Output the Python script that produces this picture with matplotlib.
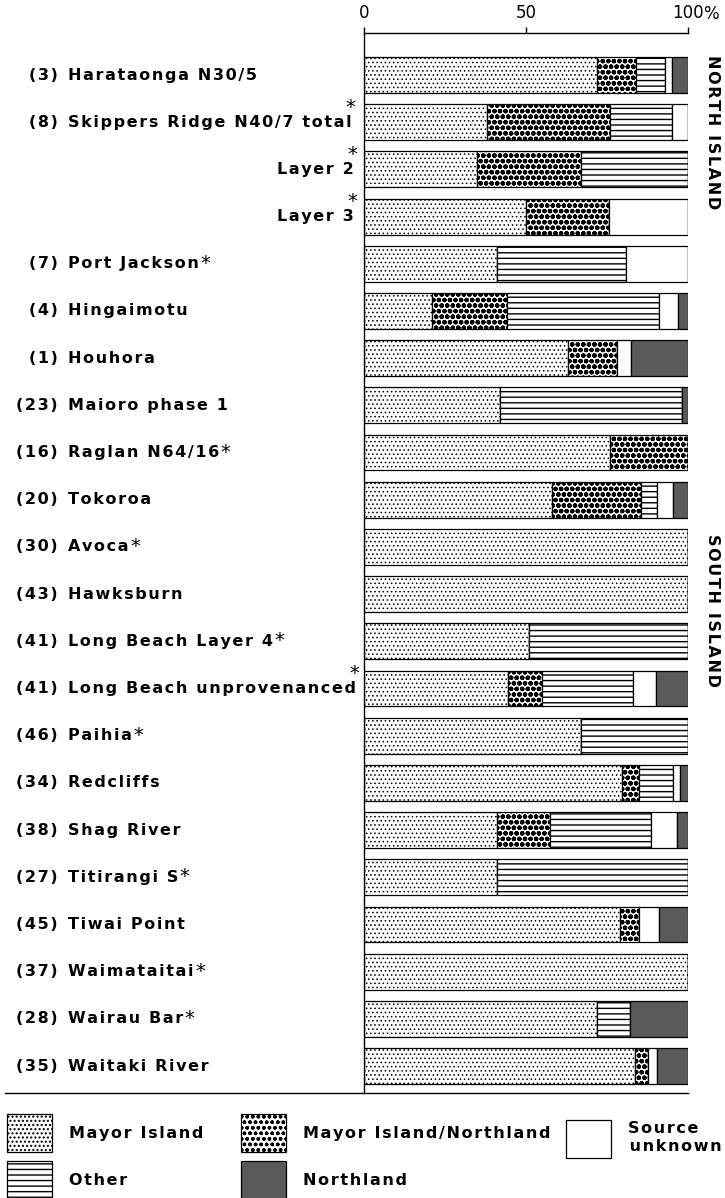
import numpy as np
import matplotlib
matplotlib.use('Agg')
import matplotlib.pyplot as plt
from matplotlib import transforms
from matplotlib.patches import Patch
from matplotlib.lines import Line2D

# site number, site name, and where its asterisk goes
numbers = ['(3)', '(8)', '', '', '(7)', '(4)', '(1)', '(23)', '(16)', '(20)', '(30)',
           '(43)', '(41)', '(41)', '(46)', '(34)', '(38)', '(27)', '(45)', '(37)',
           '(28)', '(35)']
sites = ['Harataonga N30/5', 'Skippers Ridge N40/7 total', 'Layer 2', 'Layer 3',
         'Port Jackson', 'Hingaimotu', 'Houhora', 'Maioro phase 1', 'Raglan N64/16',
         'Tokoroa', 'Avoca', 'Hawksburn', 'Long Beach Layer 4',
         'Long Beach unprovenanced', 'Paihia', 'Redcliffs', 'Shag River',
         'Titirangi S', 'Tiwai Point', 'Waimataitai', 'Wairau Bar', 'Waitaki River']
stars = ['', 'above', 'above', 'above', 'super', '', '', '', 'super', '', 'super', '',
         'super', 'above', 'super', '', '', 'super', '', 'super', 'super', '']

# percentage of obsidian from each source
mayor = [72, 38, 35, 50, 41, 21, 63, 42, 76, 58, 100, 100, 51, 44.5, 67, 79.5, 41,
         41, 79, 100, 72, 83.5]
mayor_northland = [12, 38, 32, 25.5, 0, 23, 15, 0, 24, 27.5, 0, 0, 0, 10.5, 0, 5.5,
                   16.5, 0, 6, 0, 0, 4]
other = [9, 19, 33, 0, 40, 47, 0, 56, 0, 5, 0, 0, 49, 28, 33, 10.5, 31, 59, 0, 0,
         10, 0]
unknown = [2, 5, 0, 24.5, 19, 6, 4.5, 0, 0, 5, 0, 0, 0, 7, 0, 2, 8, 0, 6, 0, 0, 3]
northland = [5, 0, 0, 0, 0, 3, 17.5, 2, 0, 4.5, 0, 0, 0, 10, 0, 2.5, 3.5, 0, 9, 0,
             18, 9.5]


def spaced(s):
    # letter-spaced lettering
    return '\u200a'.join(s)


W, H = 725, 1198
fig = plt.figure(figsize=(W / 100, H / 100), dpi=100)
ax = fig.add_axes([364 / W, 1 - 1093 / H, 324 / W, 1060 / H])

styles = {
    'Mayor Island': dict(facecolor='white', hatch='....', hlw=0.6),
    'Mayor Island/Northland': dict(facecolor='white', hatch='ooo', hlw=1.6),
    'Other': dict(facecolor='white', hatch='---', hlw=1.0),
    'Source\nunknown': dict(facecolor='white', hatch=None, hlw=1.0),
    'Northland': dict(facecolor='#5a5a5a', hatch=None, hlw=1.0),
}
series = [('Mayor Island', mayor), ('Mayor Island/Northland', mayor_northland),
          ('Other', other), ('Source\nunknown', unknown), ('Northland', northland)]

rows = np.arange(len(sites))
left = np.zeros(len(sites))
for name, vals in series:
    st = styles[name]
    with plt.rc_context({'hatch.linewidth': st['hlw']}):
        ax.barh(rows, vals, left=left, height=0.76, facecolor=st['facecolor'],
                hatch=st['hatch'], edgecolor='black', linewidth=0.9)
    left += np.array(vals)

ax.set_xlim(0, 100)
ax.set_ylim(21.57, -0.89)
ax.xaxis.tick_top()
ax.set_xticks([0, 50, 100])
ax.set_xticklabels(['0', '50', '100'])
ax.tick_params(axis='x', direction='out', length=4, width=1, pad=4, labelsize=12)
ax.set_yticks([])
ax.spines['right'].set_visible(False)
ax.spines['bottom'].set_visible(False)
for s in ('top', 'left'):
    ax.spines[s].set_linewidth(1.0)
ax.annotate('%', xy=(100, 1), xycoords=('data', 'axes fraction'), xytext=(11, 6.9),
            textcoords='offset points', ha='left', va='bottom', fontsize=12)

# site labels to the left of the bars
trans = transforms.blended_transform_factory(fig.transFigure, ax.transData)
lab = dict(fontsize=11.5, fontweight='bold', va='center', transform=trans)
star_kw = dict(textcoords='offset points', fontsize=14, va='baseline')
for i, (num, site, star) in enumerate(zip(numbers, sites, stars)):
    if num:
        ax.text(58 / W, i, spaced(num), ha='right', **lab)
        t = ax.text(68 / W, i, spaced(site), ha='left', **lab)
    else:
        t = ax.text(354 / W, i, spaced(site), ha='right', **lab)
    if star == 'above':
        ax.annotate('*', xy=(1, 1), xycoords=t, xytext=(2.5, 1.5),
                    ha='right', **star_kw)
    elif star == 'super':
        ax.annotate('*', xy=(1, 1), xycoords=t, xytext=(1, -9),
                    ha='left', **star_kw)

side = dict(fontsize=11.5, fontweight='bold', rotation=270, ha='center', va='center')
fig.text(712 / W, 1 - 132 / H, spaced('NORTH ISLAND'), **side)
fig.text(712 / W, 1 - 610 / H, spaced('SOUTH ISLAND'), **side)

# rule under the chart
fig.add_artist(Line2D([5 / W, 688 / W], [1 - 1093 / H] * 2, color='black', lw=1.0))

# legend in three columns
def handle(name):
    st = styles[name]
    return Patch(facecolor=st['facecolor'], hatch=st['hatch'], edgecolor='black',
                 linewidth=0.9)

leg_kw = dict(loc='upper left', frameon=False, borderpad=0, borderaxespad=0,
              handlelength=2.8, handleheight=3.3, handletextpad=1.1,
              labelspacing=0.55, prop=dict(size=11.5, weight='bold'))
columns = [(7, 1114, ['Mayor Island', 'Other']),
           (241, 1114, ['Mayor Island/Northland', 'Northland']),
           (566, 1120, ['Source\nunknown'])]
for x, y, names in columns:
    with plt.rc_context({'hatch.linewidth': 1.0}):
        fig.legend([handle(n) for n in names], [spaced(n) for n in names],
                   bbox_to_anchor=(x / W, 1 - y / H), **leg_kw)

fig.savefig('out.png', dpi=100)
